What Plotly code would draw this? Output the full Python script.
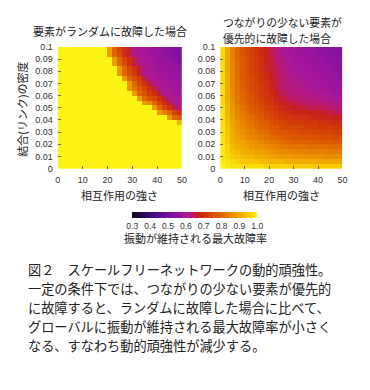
import plotly.graph_objects as go

# ---- data ----
x_centers = [1, 3, 5, 7, 9, 11, 13, 15, 17, 19, 21, 23, 25, 27, 29, 31, 33, 35, 37, 39, 41, 43, 45, 47, 49]
y_centers = [0.002, 0.006, 0.010, 0.014, 0.018, 0.022, 0.026, 0.030, 0.034, 0.038, 0.042, 0.046, 0.050,
             0.054, 0.058, 0.062, 0.066, 0.070, 0.074, 0.078, 0.082, 0.086, 0.090, 0.094, 0.098]

x_ticks = [0, 10, 20, 30, 40, 50]
x_ticktext = ["0", "10", "20", "30", "40", "50"]
y_ticks = [0, 0.01, 0.02, 0.03, 0.04, 0.05, 0.06, 0.07, 0.08, 0.09, 0.1]
y_ticktext = ["0", "0.01", "0.02", "0.03", "0.04", "0.05", "0.06", "0.07", "0.08", "0.09", "0.1"]
cbar_ticks = [0.3, 0.4, 0.5, 0.6, 0.7, 0.8, 0.9, 1.0]
cbar_ticktext = ["0.3", "0.4", "0.5", "0.6", "0.7", "0.8", "0.9", "1.0"]

# random failure (rows: y from bottom to top)
z_random = [
    [1.0, 1.0, 1.0, 1.0, 1.0, 1.0, 1.0, 1.0, 1.0, 1.0, 1.0, 1.0, 1.0, 1.0, 1.0, 1.0, 1.0, 1.0, 1.0, 1.0, 1.0, 1.0, 1.0, 1.0, 1.0],
    [1.0, 1.0, 1.0, 1.0, 1.0, 1.0, 1.0, 1.0, 1.0, 1.0, 1.0, 1.0, 1.0, 1.0, 1.0, 1.0, 1.0, 1.0, 1.0, 1.0, 1.0, 1.0, 1.0, 1.0, 1.0],
    [1.0, 1.0, 1.0, 1.0, 1.0, 1.0, 1.0, 1.0, 1.0, 1.0, 1.0, 1.0, 1.0, 1.0, 1.0, 1.0, 1.0, 1.0, 1.0, 1.0, 1.0, 1.0, 1.0, 1.0, 1.0],
    [1.0, 1.0, 1.0, 1.0, 1.0, 1.0, 1.0, 1.0, 1.0, 1.0, 1.0, 1.0, 1.0, 1.0, 1.0, 1.0, 1.0, 1.0, 1.0, 1.0, 1.0, 1.0, 1.0, 1.0, 1.0],
    [1.0, 1.0, 1.0, 1.0, 1.0, 1.0, 1.0, 1.0, 1.0, 1.0, 1.0, 1.0, 1.0, 1.0, 1.0, 1.0, 1.0, 1.0, 1.0, 1.0, 1.0, 1.0, 1.0, 1.0, 1.0],
    [1.0, 1.0, 1.0, 1.0, 1.0, 1.0, 1.0, 1.0, 1.0, 1.0, 1.0, 1.0, 1.0, 1.0, 1.0, 1.0, 1.0, 1.0, 1.0, 1.0, 1.0, 1.0, 1.0, 1.0, 1.0],
    [1.0, 1.0, 1.0, 1.0, 1.0, 1.0, 1.0, 1.0, 1.0, 1.0, 1.0, 1.0, 1.0, 1.0, 1.0, 1.0, 1.0, 1.0, 1.0, 1.0, 1.0, 1.0, 1.0, 1.0, 1.0],
    [1.0, 1.0, 1.0, 1.0, 1.0, 1.0, 1.0, 1.0, 1.0, 1.0, 1.0, 1.0, 1.0, 1.0, 1.0, 1.0, 1.0, 1.0, 1.0, 1.0, 1.0, 1.0, 1.0, 1.0, 1.0],
    [1.0, 1.0, 1.0, 1.0, 1.0, 1.0, 1.0, 1.0, 1.0, 1.0, 1.0, 1.0, 1.0, 1.0, 1.0, 1.0, 1.0, 1.0, 1.0, 1.0, 1.0, 1.0, 1.0, 1.0, 1.0],
    [1.0, 1.0, 1.0, 1.0, 1.0, 1.0, 1.0, 1.0, 1.0, 1.0, 1.0, 1.0, 1.0, 1.0, 1.0, 1.0, 1.0, 1.0, 1.0, 1.0, 1.0, 1.0, 1.0, 1.0, 0.92],
    [1.0, 1.0, 1.0, 1.0, 1.0, 1.0, 1.0, 1.0, 1.0, 1.0, 1.0, 1.0, 1.0, 1.0, 1.0, 1.0, 1.0, 1.0, 1.0, 1.0, 1.0, 1.0, 0.88, 0.80, 0.78],
    [1.0, 1.0, 1.0, 1.0, 1.0, 1.0, 1.0, 1.0, 1.0, 1.0, 1.0, 1.0, 1.0, 1.0, 1.0, 1.0, 1.0, 1.0, 1.0, 1.0, 0.88, 0.84, 0.80, 0.74, 0.70],
    [1.0, 1.0, 1.0, 1.0, 1.0, 1.0, 1.0, 1.0, 1.0, 1.0, 1.0, 1.0, 1.0, 1.0, 1.0, 1.0, 1.0, 1.0, 1.0, 0.88, 0.80, 0.74, 0.70, 0.66, 0.62],
    [1.0, 1.0, 1.0, 1.0, 1.0, 1.0, 1.0, 1.0, 1.0, 1.0, 1.0, 1.0, 1.0, 1.0, 1.0, 1.0, 1.0, 0.88, 0.86, 0.80, 0.74, 0.70, 0.66, 0.61, 0.61],
    [1.0, 1.0, 1.0, 1.0, 1.0, 1.0, 1.0, 1.0, 1.0, 1.0, 1.0, 1.0, 1.0, 1.0, 1.0, 1.0, 0.88, 0.80, 0.76, 0.74, 0.70, 0.66, 0.61, 0.61, 0.61],
    [1.0, 1.0, 1.0, 1.0, 1.0, 1.0, 1.0, 1.0, 1.0, 1.0, 1.0, 1.0, 1.0, 1.0, 1.0, 0.88, 0.80, 0.76, 0.72, 0.70, 0.66, 0.61, 0.61, 0.60, 0.59],
    [1.0, 1.0, 1.0, 1.0, 1.0, 1.0, 1.0, 1.0, 1.0, 1.0, 1.0, 1.0, 1.0, 1.0, 0.88, 0.82, 0.78, 0.74, 0.70, 0.66, 0.61, 0.61, 0.60, 0.59, 0.59],
    [1.0, 1.0, 1.0, 1.0, 1.0, 1.0, 1.0, 1.0, 1.0, 1.0, 1.0, 1.0, 1.0, 1.0, 0.88, 0.80, 0.74, 0.70, 0.66, 0.61, 0.61, 0.60, 0.59, 0.59, 0.58],
    [1.0, 1.0, 1.0, 1.0, 1.0, 1.0, 1.0, 1.0, 1.0, 1.0, 1.0, 1.0, 1.0, 0.88, 0.80, 0.76, 0.72, 0.66, 0.61, 0.61, 0.60, 0.59, 0.59, 0.58, 0.58],
    [1.0, 1.0, 1.0, 1.0, 1.0, 1.0, 1.0, 1.0, 1.0, 1.0, 1.0, 1.0, 0.88, 0.80, 0.76, 0.72, 0.66, 0.61, 0.61, 0.60, 0.59, 0.59, 0.58, 0.57, 0.57],
    [1.0, 1.0, 1.0, 1.0, 1.0, 1.0, 1.0, 1.0, 1.0, 1.0, 1.0, 1.0, 0.88, 0.80, 0.74, 0.70, 0.66, 0.61, 0.61, 0.60, 0.59, 0.58, 0.58, 0.57, 0.56],
    [1.0, 1.0, 1.0, 1.0, 1.0, 1.0, 1.0, 1.0, 1.0, 1.0, 1.0, 0.88, 0.80, 0.76, 0.70, 0.66, 0.61, 0.61, 0.60, 0.59, 0.58, 0.58, 0.57, 0.56, 0.55],
    [1.0, 1.0, 1.0, 1.0, 1.0, 1.0, 1.0, 1.0, 1.0, 1.0, 1.0, 0.88, 0.80, 0.74, 0.70, 0.66, 0.61, 0.61, 0.60, 0.59, 0.58, 0.57, 0.56, 0.55, 0.54],
    [1.0, 1.0, 1.0, 1.0, 1.0, 1.0, 1.0, 1.0, 1.0, 1.0, 0.88, 0.80, 0.76, 0.70, 0.66, 0.61, 0.61, 0.60, 0.59, 0.58, 0.57, 0.56, 0.55, 0.54, 0.53],
    [1.0, 1.0, 1.0, 1.0, 1.0, 1.0, 1.0, 1.0, 1.0, 1.0, 0.88, 0.80, 0.74, 0.70, 0.66, 0.61, 0.61, 0.60, 0.59, 0.58, 0.57, 0.56, 0.55, 0.54, 0.53],
]

# preferential failure of low-degree elements
z_targeted = [
    [1.00, 0.99, 0.98, 0.98, 0.97, 0.97, 0.97, 0.97, 0.97, 0.96, 0.96, 0.96, 0.96, 0.96, 0.96, 0.95, 0.95, 0.95, 0.95, 0.95, 0.95, 0.95, 0.95, 0.95, 0.95],
    [0.99, 0.98, 0.97, 0.96, 0.95, 0.95, 0.94, 0.94, 0.93, 0.93, 0.92, 0.92, 0.92, 0.91, 0.91, 0.91, 0.91, 0.91, 0.91, 0.91, 0.90, 0.90, 0.90, 0.90, 0.90],
    [0.99, 0.97, 0.95, 0.94, 0.93, 0.92, 0.92, 0.91, 0.91, 0.90, 0.89, 0.89, 0.88, 0.88, 0.88, 0.87, 0.87, 0.87, 0.87, 0.87, 0.87, 0.86, 0.86, 0.86, 0.86],
    [0.99, 0.96, 0.94, 0.93, 0.91, 0.91, 0.90, 0.89, 0.89, 0.88, 0.87, 0.86, 0.86, 0.85, 0.85, 0.85, 0.84, 0.84, 0.84, 0.84, 0.84, 0.84, 0.83, 0.83, 0.83],
    [0.99, 0.96, 0.93, 0.91, 0.90, 0.89, 0.88, 0.87, 0.87, 0.86, 0.85, 0.84, 0.83, 0.83, 0.82, 0.82, 0.82, 0.82, 0.81, 0.81, 0.81, 0.81, 0.80, 0.80, 0.80],
    [0.99, 0.95, 0.92, 0.90, 0.89, 0.88, 0.87, 0.86, 0.85, 0.84, 0.83, 0.82, 0.81, 0.80, 0.80, 0.79, 0.79, 0.79, 0.79, 0.78, 0.78, 0.78, 0.78, 0.77, 0.77],
    [0.98, 0.95, 0.91, 0.89, 0.88, 0.86, 0.85, 0.84, 0.83, 0.82, 0.81, 0.80, 0.79, 0.78, 0.78, 0.78, 0.77, 0.77, 0.77, 0.76, 0.76, 0.76, 0.76, 0.75, 0.75],
    [0.98, 0.94, 0.91, 0.88, 0.87, 0.85, 0.84, 0.83, 0.82, 0.81, 0.79, 0.78, 0.77, 0.77, 0.76, 0.76, 0.75, 0.75, 0.75, 0.74, 0.74, 0.74, 0.74, 0.73, 0.73],
    [0.98, 0.94, 0.90, 0.87, 0.86, 0.84, 0.83, 0.82, 0.80, 0.79, 0.78, 0.77, 0.75, 0.75, 0.74, 0.74, 0.74, 0.73, 0.73, 0.73, 0.72, 0.72, 0.72, 0.71, 0.71],
    [0.98, 0.93, 0.89, 0.87, 0.85, 0.83, 0.82, 0.80, 0.79, 0.78, 0.76, 0.75, 0.74, 0.73, 0.72, 0.72, 0.72, 0.71, 0.71, 0.71, 0.70, 0.70, 0.70, 0.69, 0.69],
    [0.98, 0.93, 0.89, 0.86, 0.84, 0.82, 0.81, 0.79, 0.78, 0.76, 0.75, 0.73, 0.72, 0.71, 0.71, 0.70, 0.70, 0.70, 0.69, 0.69, 0.68, 0.68, 0.68, 0.67, 0.67],
    [0.98, 0.92, 0.88, 0.85, 0.83, 0.81, 0.79, 0.78, 0.76, 0.75, 0.73, 0.72, 0.70, 0.70, 0.69, 0.68, 0.68, 0.68, 0.67, 0.67, 0.67, 0.66, 0.66, 0.65, 0.65],
    [0.98, 0.92, 0.87, 0.84, 0.82, 0.80, 0.78, 0.77, 0.75, 0.73, 0.72, 0.70, 0.69, 0.68, 0.67, 0.67, 0.66, 0.66, 0.65, 0.65, 0.65, 0.64, 0.64, 0.63, 0.63],
    [0.97, 0.92, 0.87, 0.83, 0.81, 0.79, 0.77, 0.76, 0.74, 0.72, 0.71, 0.69, 0.67, 0.67, 0.66, 0.65, 0.65, 0.64, 0.64, 0.64, 0.63, 0.63, 0.62, 0.62, 0.62],
    [0.97, 0.91, 0.86, 0.83, 0.80, 0.78, 0.77, 0.75, 0.73, 0.71, 0.70, 0.68, 0.66, 0.65, 0.64, 0.64, 0.63, 0.63, 0.63, 0.62, 0.62, 0.61, 0.61, 0.60, 0.60],
    [0.97, 0.91, 0.86, 0.82, 0.80, 0.78, 0.76, 0.74, 0.72, 0.71, 0.69, 0.67, 0.65, 0.64, 0.63, 0.63, 0.63, 0.62, 0.62, 0.61, 0.61, 0.60, 0.60, 0.59, 0.59],
    [0.97, 0.91, 0.85, 0.82, 0.79, 0.77, 0.75, 0.74, 0.72, 0.70, 0.68, 0.66, 0.64, 0.63, 0.63, 0.62, 0.62, 0.61, 0.61, 0.60, 0.60, 0.59, 0.59, 0.58, 0.58],
    [0.97, 0.91, 0.85, 0.82, 0.79, 0.77, 0.75, 0.73, 0.71, 0.70, 0.68, 0.66, 0.64, 0.63, 0.62, 0.62, 0.61, 0.61, 0.60, 0.60, 0.59, 0.59, 0.58, 0.58, 0.58],
    [0.97, 0.91, 0.85, 0.81, 0.78, 0.77, 0.75, 0.73, 0.71, 0.69, 0.67, 0.65, 0.64, 0.63, 0.62, 0.61, 0.61, 0.60, 0.60, 0.59, 0.59, 0.58, 0.58, 0.57, 0.57],
    [0.97, 0.91, 0.85, 0.81, 0.78, 0.76, 0.74, 0.73, 0.71, 0.69, 0.67, 0.65, 0.63, 0.62, 0.61, 0.61, 0.60, 0.60, 0.59, 0.59, 0.58, 0.58, 0.57, 0.57, 0.56],
    [0.97, 0.90, 0.85, 0.81, 0.78, 0.76, 0.74, 0.72, 0.70, 0.68, 0.66, 0.65, 0.63, 0.62, 0.61, 0.60, 0.60, 0.59, 0.59, 0.58, 0.58, 0.57, 0.57, 0.56, 0.56],
    [0.97, 0.90, 0.85, 0.81, 0.78, 0.76, 0.74, 0.72, 0.70, 0.68, 0.66, 0.64, 0.62, 0.61, 0.60, 0.60, 0.59, 0.59, 0.58, 0.58, 0.57, 0.57, 0.56, 0.56, 0.55],
    [0.97, 0.90, 0.84, 0.80, 0.78, 0.76, 0.74, 0.72, 0.70, 0.68, 0.66, 0.64, 0.62, 0.61, 0.60, 0.59, 0.59, 0.58, 0.58, 0.57, 0.57, 0.56, 0.56, 0.55, 0.55],
    [0.97, 0.90, 0.84, 0.80, 0.77, 0.75, 0.73, 0.71, 0.69, 0.67, 0.65, 0.63, 0.61, 0.60, 0.59, 0.59, 0.58, 0.58, 0.57, 0.57, 0.56, 0.56, 0.55, 0.55, 0.54],
    [0.97, 0.90, 0.84, 0.80, 0.77, 0.75, 0.73, 0.71, 0.69, 0.67, 0.65, 0.63, 0.61, 0.60, 0.59, 0.585, 0.58, 0.575, 0.57, 0.565, 0.56, 0.555, 0.55, 0.545, 0.54],
]

title_left = "要素がランダムに故障した場合"
title_right_1 = "つながりの少ない要素が"
title_right_2 = "優先的に故障した場合"
x_title = "相互作用の強さ"
y_title = "結合(リンク)の密度"
cbar_title = "振動が維持される最大故障率"
caption_lines = [
    "図２　スケールフリーネットワークの動的頑強性。",
    "一定の条件下では、つながりの少ない要素が優先的",
    "に故障すると、ランダムに故障した場合に比べて、",
    "グローバルに振動が維持される最大故障率が小さく",
    "なる、すなわち動的頑強性が減少する。",
]

# ---- style ----
W, H = 370, 390
JP = "Noto Sans CJK JP"
LAT = "Liberation Sans"

colorscale = [
    [0.0, "#140a1e"],
    [0.1, "#2e0a5a"],
    [0.2, "#520c90"],
    [0.2857, "#700e9e"],
    [0.357, "#8a12a0"],
    [0.4286, "#a8169a"],
    [0.486, "#bc1a6c"],
    [0.529, "#c8201e"],
    [0.6, "#d23a08"],
    [0.7, "#de6000"],
    [0.8, "#ea8c00"],
    [0.9, "#f4bc00"],
    [1.0, "#fcf214"],
]

def px_x(p):
    return p / W

def px_y(p):
    return 1 - p / H

fig = go.Figure()
fig.add_trace(go.Heatmap(x=x_centers, y=y_centers, z=z_random, coloraxis="coloraxis",
                         xaxis="x", yaxis="y", hoverinfo="skip"))
fig.add_trace(go.Heatmap(x=x_centers, y=y_centers, z=z_targeted, coloraxis="coloraxis",
                         xaxis="x2", yaxis="y2", hoverinfo="skip"))

axis_common = dict(showgrid=False, zeroline=False, showline=False, ticks="inside", ticklen=3,
                   tickwidth=1, tickcolor="#666", tickfont=dict(family=LAT, size=9, color="#333"),
                   ticklabelstandoff=4)

fig.update_layout(
    width=W, height=H,
    margin=dict(l=0, r=0, t=0, b=0),
    paper_bgcolor="white", plot_bgcolor="white",
    showlegend=False,
    xaxis=dict(domain=[px_x(56), px_x(183)], range=[0, 50], tickvals=x_ticks, ticktext=x_ticktext,
               anchor="y", **axis_common),
    yaxis=dict(domain=[px_y(168), px_y(43)], range=[0, 0.1], tickvals=y_ticks, ticktext=y_ticktext,
               anchor="x", **axis_common),
    xaxis2=dict(domain=[px_x(222), px_x(347)], range=[0, 50], tickvals=x_ticks, ticktext=x_ticktext,
                anchor="y2", **axis_common),
    yaxis2=dict(domain=[px_y(168), px_y(43)], range=[0, 0.1], tickvals=y_ticks, ticktext=y_ticktext,
                anchor="x2", **axis_common),
    coloraxis=dict(
        cmin=0.3, cmax=1.0, colorscale=colorscale,
        colorbar=dict(orientation="h", x=px_x(196), xanchor="center", y=px_y(212), yanchor="top",
                      len=125, lenmode="pixels", thickness=6, thicknessmode="pixels",
                      outlinewidth=0, xpad=0, ypad=0, ticks="", tickvals=cbar_ticks,
                      ticktext=cbar_ticktext,
                      tickfont=dict(family=LAT, size=8.5, color="#333")),
    ),
)

ann = []
ann.append(dict(text=title_left, x=px_x(109), y=px_y(27), xref="paper", yref="paper",
                xanchor="center", yanchor="middle", showarrow=False,
                font=dict(family=JP, size=11, color="#222")))
ann.append(dict(text=title_right_1, x=px_x(223), y=px_y(17.5), xref="paper", yref="paper",
                xanchor="left", yanchor="middle", showarrow=False,
                font=dict(family=JP, size=10.8, color="#222")))
ann.append(dict(text=title_right_2, x=px_x(223), y=px_y(33.5), xref="paper", yref="paper",
                xanchor="left", yanchor="middle", showarrow=False,
                font=dict(family=JP, size=10.8, color="#222")))
for cx in (119.5, 284.5):
    ann.append(dict(text=x_title, x=px_x(cx), y=px_y(195), xref="paper", yref="paper",
                    xanchor="center", yanchor="middle", showarrow=False,
                    font=dict(family=JP, size=11, color="#222")))
ann.append(dict(text=y_title, x=px_x(20), y=px_y(107), xref="paper", yref="paper",
                xanchor="center", yanchor="middle", showarrow=False, textangle=-90,
                font=dict(family=JP, size=11, color="#222")))
ann.append(dict(text=cbar_title, x=px_x(197), y=px_y(239.5), xref="paper", yref="paper",
                xanchor="center", yanchor="middle", showarrow=False,
                font=dict(family=JP, size=11, color="#222")))
line_y = [271.5, 291, 310.5, 330, 349.5]
for t, ly in zip(caption_lines, line_y):
    ann.append(dict(text=t, x=px_x(24), y=px_y(ly), xref="paper", yref="paper",
                    xanchor="left", yanchor="middle", showarrow=False,
                    font=dict(family=JP, size=13.2, color="#222")))
fig.update_layout(annotations=ann)

fig.write_html("out.html")
